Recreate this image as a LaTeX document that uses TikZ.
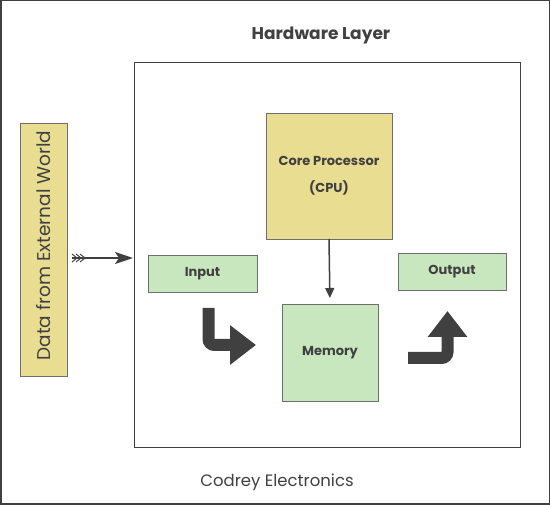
\documentclass[tikz,border=0pt]{standalone}
\usepackage{fontspec}
\setmainfont{Poppins}
\usepackage{tikz}
\usetikzlibrary{arrows.meta,calc}
\definecolor{boxyellow}{RGB}{233,221,146}
\definecolor{boxgreen}{RGB}{201,231,191}
\definecolor{darkline}{RGB}{64,64,64}
\definecolor{edgegray}{RGB}{110,110,110}

\begin{document}
\begin{tikzpicture}[x=1pt,y=-1pt,every node/.style={outer sep=0pt,text=darkline}]
\tikzstyle{block}=[draw=edgegray,line width=0.8pt,inner sep=0pt]
\tikzstyle{yellowblock}=[block,fill=boxyellow]
\tikzstyle{greenblock}=[block,fill=boxgreen,font=\bfseries\fontsize{13}{15}\selectfont]
\tikzstyle{fatarrow}=[darkline,line width=12pt,rounded corners=6pt,-{Triangle[length=26pt,width=38pt]}]

\useasboundingbox (0,0) rectangle (550,505);
\draw [darkline,line width=1.5pt] (0.75,0.75) rectangle (549.25,504.25);

\node (title) at (321,35) [font=\bfseries\fontsize{17}{19}\selectfont] {Hardware Layer};
\node (hw) at (327,254.5) [draw=darkline,line width=0.8pt,minimum width=386pt,minimum height=385pt] {};
\node (data) at (43.5,249.5) [yellowblock,minimum width=47pt,minimum height=253pt] {};
\node (data_text) at ($(data.center)+(0,-4)$) [rotate=90,font=\fontsize{18.5}{20}\selectfont] {Data from External World};
\node (cpu) at (329,176) [yellowblock,minimum width=126pt,minimum height=126pt,align=center,font=\bfseries\fontsize{13}{27}\selectfont] {Core Processor\\(CPU)};
\node (input) at (202.5,273.5) [greenblock,minimum width=109pt,minimum height=37pt] {Input};
\node (output) at (452,271.5) [greenblock,minimum width=108pt,minimum height=37pt] {Output};
\node (memory) at (330,352.5) [greenblock,minimum width=96pt,minimum height=97pt] {Memory};
\node (footer) at (277,482) [font=\fontsize{16.5}{18}\selectfont] {Codrey Electronics};

% data coming in
\coordinate (tail) at (72,258);
\draw [darkline,line width=1.8pt,-{Stealth[length=18pt,width=12pt,inset=4pt]}] (tail) -- ($(tail -| hw.west)+(-1,0)$);
\foreach \i in {0,4,8}
  \draw [darkline,line width=1pt] ($(tail)+(\i,-4)$) -- ($(tail)+(\i+5,0)$) -- ($(tail)+(\i,4)$);

% cpu to memory
\draw [darkline,line width=1.5pt,-{Triangle[length=10pt,width=9pt]},shorten >=6pt] (cpu.south) -- (memory.north);

% flow arrows
\coordinate (in_a) at (208.5,308);
\coordinate (in_b) at (208.5,345);
\coordinate (in_c) at (256,345);
\draw [fatarrow] (in_a) -- (in_b) -- (in_c);
\coordinate (out_a) at (408,358);
\coordinate (out_b) at (447.5,358);
\coordinate (out_c) at (447.5,311);
\draw [fatarrow] (out_a) -- (out_b) -- (out_c);

\end{tikzpicture}
\end{document}
